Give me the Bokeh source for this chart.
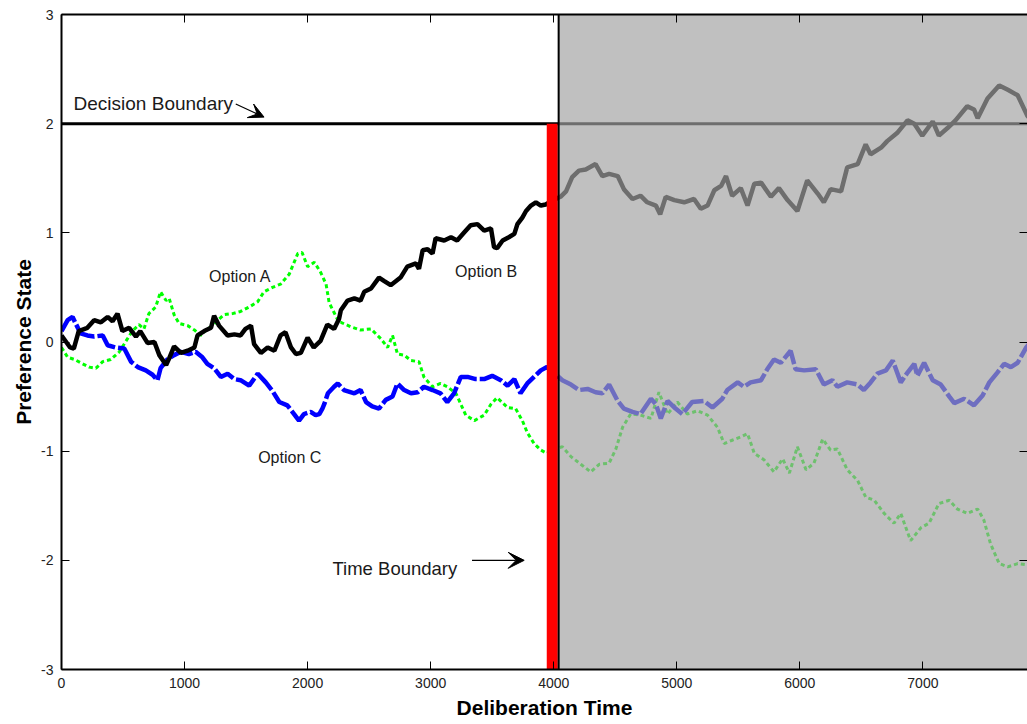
from bokeh.plotting import figure
from bokeh.models import Range1d, LinearAxis, FixedTicker, Arrow, VeeHead, CustomLabelingPolicy
from bokeh.core.properties import value
from bokeh.embed import file_html
from bokeh.resources import INLINE

# ---------------- data ----------------
X_TICKS = [0, 1000, 2000, 3000, 4000, 5000, 6000, 7000]
Y_TICKS = [-3, -2, -1, 0, 1, 2, 3]
X_END = 7850
DECISION_BOUNDARY = 2.0
TIME_BOUNDARY = 3988
GRAY_START = 4040

# Option B (black)
b_t = [0, 70, 100, 140, 210, 265, 320, 375, 415, 455, 495, 550, 605, 640, 700, 755, 795, 850, 875, 915,
       970, 1025, 1080, 1105, 1160, 1215, 1240, 1280, 1350, 1405, 1455, 1495, 1540, 1565, 1620, 1675, 1730,
       1780, 1820, 1865, 1905, 1945, 2000, 2050, 2105, 2160, 2215, 2255, 2270, 2325, 2380, 2430, 2460, 2515,
       2580, 2620, 2675, 2755, 2810, 2880, 2905, 2935, 2975, 3015, 3040, 3110, 3165, 3215, 3270, 3325, 3380,
       3435, 3490, 3515, 3540, 3585, 3635, 3680, 3705, 3745, 3775, 3815, 3855, 3895, 3935, 3995, 4055, 4100,
       4150, 4205, 4260, 4340, 4395, 4450, 4520, 4570, 4640, 4705, 4760, 4830, 4865, 4910, 4980, 5060, 5140,
       5195, 5250, 5305, 5360, 5400, 5450, 5520, 5575, 5630, 5685, 5765, 5830, 5900, 5980, 6060, 6145, 6195,
       6250, 6335, 6385, 6470, 6535, 6575, 6660, 6710, 6795, 6875, 6930, 6995, 7080, 7130, 7200, 7265, 7360,
       7415, 7445, 7525, 7620, 7690, 7770, 7850, 7890]
b_v = [0.06, -0.05, -0.06, 0.10, 0.13, 0.20, 0.18, 0.23, 0.19, 0.26, 0.10, 0.13, 0.05, 0.10, -0.01, 0.00,
       -0.12, -0.21, -0.15, -0.04, -0.10, -0.08, -0.05, 0.06, 0.10, 0.13, 0.24, 0.15, 0.06, 0.07, 0.06, 0.12,
       0.15, -0.02, -0.10, -0.05, -0.08, 0.06, 0.09, -0.05, -0.11, -0.10, 0.04, -0.05, 0.01, 0.16, 0.12, 0.21,
       0.29, 0.38, 0.40, 0.38, 0.46, 0.49, 0.59, 0.56, 0.52, 0.59, 0.69, 0.72, 0.67, 0.84, 0.85, 0.81, 0.95,
       0.93, 0.96, 0.93, 1.00, 1.07, 1.08, 1.02, 1.04, 0.87, 0.86, 0.93, 0.96, 0.99, 1.08, 1.14, 1.20, 1.25,
       1.28, 1.25, 1.26, 1.30, 1.33, 1.38, 1.51, 1.57, 1.58, 1.63, 1.52, 1.54, 1.52, 1.40, 1.31, 1.34, 1.28,
       1.25, 1.17, 1.33, 1.30, 1.28, 1.31, 1.22, 1.25, 1.39, 1.43, 1.52, 1.34, 1.41, 1.25, 1.45, 1.46, 1.33,
       1.41, 1.30, 1.20, 1.48, 1.36, 1.28, 1.40, 1.38, 1.60, 1.63, 1.81, 1.72, 1.78, 1.84, 1.92, 2.03, 2.00,
       1.89, 2.02, 1.89, 1.96, 2.03, 2.16, 2.13, 2.05, 2.23, 2.35, 2.31, 2.26, 2.07, 2.02]

# Option A (green)
a_t = [0, 50, 105, 155, 225, 280, 335, 400, 470, 525, 575, 630, 670, 710, 765, 805, 850, 875, 915, 955,
       1025, 1080, 1130, 1175, 1215, 1270, 1320, 1390, 1455, 1525, 1595, 1645, 1715, 1780, 1850, 1920, 1955,
       2000, 2055, 2105, 2150, 2175, 2215, 2255, 2270, 2350, 2430, 2515, 2595, 2650, 2690, 2730, 2785, 2840,
       2905, 2945, 3015, 3080, 3135, 3205, 3245, 3285, 3355, 3435, 3490, 3540, 3625, 3690, 3745, 3785, 3840,
       3895, 3945, 4000, 4070, 4140, 4220, 4300, 4370, 4450, 4505, 4560, 4625, 4705, 4790, 4855, 4925, 5005,
       5085, 5170, 5250, 5330, 5385, 5450, 5520, 5575, 5630, 5710, 5790, 5860, 5915, 5980, 6050, 6115, 6185,
       6250, 6305, 6385, 6470, 6535, 6605, 6685, 6765, 6820, 6900, 6985, 7050, 7130, 7215, 7280, 7360, 7445,
       7495, 7550, 7620, 7690, 7770, 7850, 7890]
a_v = [-0.05, -0.14, -0.16, -0.19, -0.23, -0.24, -0.18, -0.16, -0.09, 0.01, 0.10, 0.16, 0.12, 0.26, 0.32,
       0.46, 0.38, 0.40, 0.25, 0.17, 0.15, 0.11, 0.06, 0.11, 0.14, 0.20, 0.25, 0.26, 0.28, 0.32, 0.37, 0.46,
       0.50, 0.53, 0.62, 0.81, 0.82, 0.69, 0.73, 0.64, 0.53, 0.36, 0.27, 0.18, 0.18, 0.14, 0.11, 0.12, 0.03,
       -0.05, 0.06, -0.11, -0.12, -0.17, -0.18, -0.32, -0.41, -0.38, -0.41, -0.47, -0.57, -0.67, -0.72, -0.67,
       -0.57, -0.51, -0.60, -0.61, -0.72, -0.83, -0.93, -0.99, -1.02, -0.98, -0.96, -1.05, -1.12, -1.19, -1.12,
       -1.11, -0.98, -0.78, -0.66, -0.67, -0.70, -0.46, -0.66, -0.55, -0.66, -0.63, -0.67, -0.78, -0.93, -0.90,
       -0.87, -0.84, -1.02, -1.08, -1.19, -1.07, -1.20, -0.96, -1.17, -1.11, -0.89, -0.99, -0.98, -1.17, -1.27,
       -1.42, -1.45, -1.57, -1.66, -1.57, -1.82, -1.70, -1.66, -1.48, -1.45, -1.53, -1.57, -1.53, -1.63, -1.85,
       -2.03, -2.06, -2.03, -2.04, -2.03]

# Option C (blue)
c_t = [0, 50, 90, 115, 155, 210, 265, 335, 375, 440, 510, 565, 620, 685, 740, 780, 805, 860, 915, 970,
       1035, 1090, 1145, 1185, 1240, 1295, 1350, 1405, 1455, 1525, 1595, 1660, 1715, 1770, 1835, 1890, 1930,
       1970, 2025, 2065, 2095, 2120, 2135, 2165, 2215, 2245, 2295, 2380, 2430, 2475, 2525, 2580, 2635, 2690,
       2730, 2785, 2840, 2895, 2945, 3015, 3080, 3135, 3190, 3245, 3300, 3365, 3435, 3500, 3570, 3625, 3680,
       3730, 3785, 3840, 3895, 3945, 4000, 4070, 4140, 4205, 4275, 4340, 4395, 4450, 4520, 4570, 4640, 4705,
       4790, 4830, 4870, 4925, 4990, 5045, 5125, 5220, 5290, 5370, 5410, 5495, 5545, 5600, 5685, 5735, 5790,
       5845, 5925, 5965, 6035, 6130, 6195, 6265, 6305, 6385, 6470, 6520, 6575, 6630, 6700, 6755, 6820, 6875,
       6930, 6955, 7010, 7080, 7145, 7215, 7255, 7335, 7415, 7485, 7540, 7605, 7660, 7715, 7770, 7840, 7890]
c_v = [0.10, 0.20, 0.23, 0.17, 0.08, 0.06, 0.05, 0.06, -0.03, -0.05, -0.06, -0.18, -0.23, -0.26, -0.30,
       -0.35, -0.24, -0.16, -0.12, -0.09, -0.11, -0.09, -0.14, -0.20, -0.24, -0.32, -0.29, -0.34, -0.35, -0.40,
       -0.29, -0.37, -0.45, -0.55, -0.58, -0.66, -0.72, -0.66, -0.64, -0.67, -0.66, -0.61, -0.57, -0.47, -0.41,
       -0.38, -0.44, -0.47, -0.44, -0.55, -0.59, -0.61, -0.53, -0.50, -0.38, -0.44, -0.47, -0.46, -0.41, -0.44,
       -0.47, -0.55, -0.47, -0.32, -0.32, -0.34, -0.34, -0.31, -0.35, -0.40, -0.34, -0.47, -0.38, -0.32, -0.26,
       -0.23, -0.28, -0.35, -0.39, -0.44, -0.43, -0.46, -0.47, -0.39, -0.54, -0.61, -0.64, -0.66, -0.52, -0.57,
       -0.70, -0.54, -0.61, -0.66, -0.55, -0.54, -0.60, -0.52, -0.44, -0.37, -0.41, -0.37, -0.35, -0.25, -0.16,
       -0.19, -0.08, -0.25, -0.26, -0.25, -0.39, -0.35, -0.41, -0.37, -0.39, -0.44, -0.37, -0.29, -0.26, -0.17,
       -0.37, -0.28, -0.20, -0.31, -0.19, -0.35, -0.39, -0.50, -0.56, -0.52, -0.58, -0.49, -0.37, -0.28, -0.20,
       -0.23, -0.19, -0.05, 0.02]

LABELS = ["Decision Boundary", "Option A", "Option B", "Option C", "Time Boundary"]

FONT = "Liberation Sans"

# ---------------- figure ----------------
p = figure(width=1027, height=724, output_backend="svg", toolbar_location=None,
           x_range=Range1d(0, X_END), y_range=Range1d(-3, 3),
           min_border_left=61, min_border_right=0, min_border_top=14, min_border_bottom=55)
p.grid.visible = False
p.outline_line_color = None
p.background_fill_color = "white"
p.border_fill_color = "white"

for ax in (p.xaxis[0], p.yaxis[0]):
    ax.major_tick_in = 8
    ax.major_tick_out = 0
    ax.minor_tick_line_color = None
    ax.axis_line_width = 2
    ax.major_tick_line_width = 1
    ax.axis_line_color = "black"
    ax.major_label_text_font = FONT
    ax.major_label_text_font_size = "14px"
    ax.major_label_text_color = "#222222"
    ax.major_label_standoff = 8
    ax.axis_label_text_font = FONT
    ax.axis_label_text_font_size = "21px"
    ax.axis_label_text_font_style = "bold"
    ax.axis_label_text_color = "black"

p.xaxis.ticker = FixedTicker(ticks=X_TICKS)
p.yaxis.ticker = FixedTicker(ticks=Y_TICKS)
p.yaxis.major_label_overrides = {t: "%d" % t for t in Y_TICKS}
p.xaxis.axis_label = "Deliberation Time"
p.yaxis.axis_label = "Preference State"
p.xaxis.axis_label_standoff = 5
p.yaxis.axis_label_standoff = 3

no_labels = CustomLabelingPolicy(code="""
for (const i of indices)
    indices.unset(i)
return indices
""")

top = LinearAxis(ticker=FixedTicker(ticks=X_TICKS), major_tick_in=8, major_tick_out=0,
                 minor_tick_line_color=None, major_label_policy=no_labels,
                 major_label_text_font_size="0px", major_label_standoff=0, axis_line_width=2)
p.add_layout(top, "above")
right = LinearAxis(ticker=FixedTicker(ticks=Y_TICKS), major_tick_in=8, major_tick_out=0,
                   minor_tick_line_color=None, major_label_policy=no_labels,
                   major_label_text_font_size="0px", major_label_standoff=0, axis_line_color=None)
p.add_layout(right, "right")

# decision boundary
p.segment(x0=[0], x1=[X_END], y0=[DECISION_BOUNDARY], y1=[DECISION_BOUNDARY],
          line_color="black", line_width=3)

# series
p.line(a_t, a_v, line_color="#00ff00", line_width=3, line_dash="4 3")
p.line(c_t, c_v, line_color="#0000ff", line_width=4.5, line_dash="24 3")
p.line(b_t, b_v, line_color="black", line_width=4.5)

# time boundary (red bar)
p.segment(x0=[TIME_BOUNDARY], x1=[TIME_BOUNDARY], y0=[-3], y1=[DECISION_BOUNDARY],
          line_color="#ff0000", line_width=11, line_cap="butt")

# gray overlay beyond the deliberation window
p.quad(left=[GRAY_START], right=[X_END], bottom=[-3], top=[3],
       fill_color=(162, 162, 162), fill_alpha=0.68, line_color=None)
p.segment(x0=[GRAY_START], x1=[GRAY_START], y0=[-3], y1=[3], line_color="black", line_width=2)

# texts
p.text(x=[98], y=[2.187], text=[LABELS[0]], text_font=value(FONT), text_font_size="19px",
       text_color="#1a1a1a", text_baseline="alphabetic", text_align="left")
p.text(x=[1199, 3198, 1598], y=[0.60, 0.646, -1.055], text=LABELS[1:4], text_font=value(FONT),
       text_font_size="16px", text_color="#1a1a1a", text_baseline="alphabetic", text_align="left")
p.text(x=[2202], y=[-2.077], text=[LABELS[4]], text_font=value(FONT), text_font_size="18.5px",
       text_color="#1a1a1a", text_baseline="alphabetic", text_align="left")

# arrows
p.add_layout(Arrow(end=VeeHead(size=15, fill_color="black", line_color="black"),
                   x_start=1416, y_start=2.18, x_end=1646, y_end=2.06,
                   line_color="black", line_width=1.2))
p.add_layout(Arrow(end=VeeHead(size=16, fill_color="black", line_color="black"),
                   x_start=3336, y_start=-2.0, x_end=3760, y_end=-2.0,
                   line_color="black", line_width=1.2))

open("out.html", "w").write(file_html(p, INLINE))
